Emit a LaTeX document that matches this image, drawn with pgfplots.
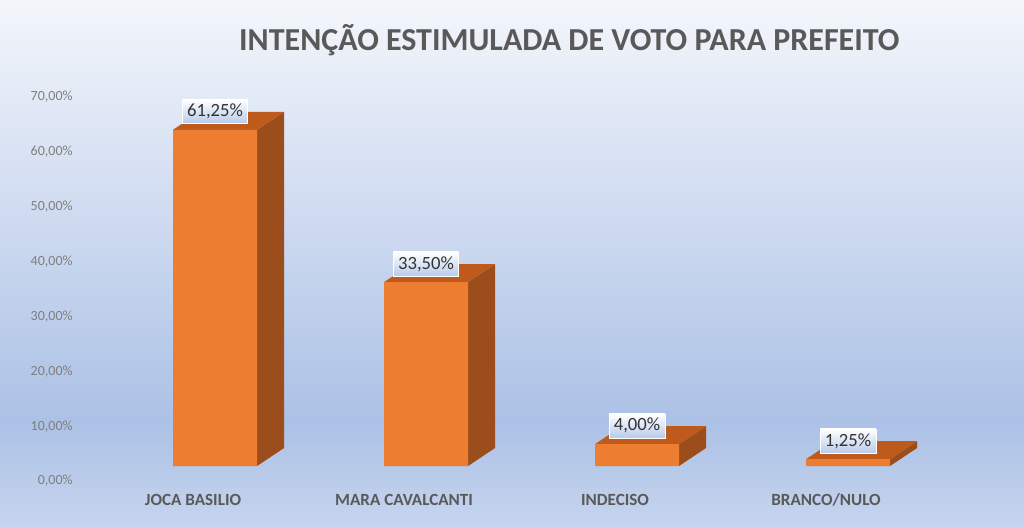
\documentclass[border=0pt]{standalone}
\usepackage{pgfplots}
\pgfplotsset{compat=1.18}
\usepackage{fontspec}
\setmainfont{Carlito}
\definecolor{barfront}{HTML}{ED7D31}
\definecolor{barside}{HTML}{9C4D1C}
\definecolor{bartop}{HTML}{BD5A1C}
\definecolor{bgtop}{HTML}{F3F6FB}
\definecolor{bgmid}{HTML}{ACC1E6}
\definecolor{bgbot}{HTML}{C6D4EE}
\definecolor{titlegray}{HTML}{595959}
\definecolor{tickgray}{HTML}{7F7F7F}
\definecolor{lblblue}{HTML}{B9CBEA}

\begin{document}
\begin{tikzpicture}
% background (1px = 0.75pt)
\shade[top color=bgtop, bottom color=bgmid] (0,78.75pt) rectangle (768pt,394.5pt);
\shade[top color=bgmid, bottom color=bgbot] (0,0) rectangle (768pt,78.75pt);
\node[font=\fontsize{24}{28}\selectfont\bfseries, text=titlegray] at (427pt,364.5pt)
  {INTENÇÃO ESTIMULADA DE VOTO PARA PREFEITO};
\begin{axis}[
  at={(60pt,32.625pt)}, anchor=south west,
  x=158.25pt, y=4.1175pt,
  xmin=-0.64, xmax=3.72,
  ymin=-3, ymax=75,
  clip=false,
  axis line style={draw=none},
  tick style={draw=none},
  ytick={0,10,20,30,40,50,60,70},
  yticklabel={\pgfmathprintnumber[fixed,fixed zerofill,precision=2,use comma,assume math mode=true]{\tick}\%},
  yticklabel style={font=\fontsize{10.5}{12}\selectfont, text=tickgray, yshift=-11.25pt, xshift=-2pt},
  xtick={0,1,2,3},
  xticklabels={JOCA BASILIO, MARA CAVALCANTI, INDECISO, BRANCO/NULO},
  xticklabel style={font=\fontsize{12.8}{15}\selectfont\bfseries, text=titlegray, xshift=-16.5pt, yshift=-5pt},
]
% side faces
\addplot[fill=barside, draw=none] coordinates {(0.199,0)(0.199,61.25)(0.327,64.53)(0.327,3.28)} -- cycle;
\addplot[fill=barside, draw=none] coordinates {(1.199,0)(1.199,33.5)(1.327,36.78)(1.327,3.28)} -- cycle;
\addplot[fill=barside, draw=none] coordinates {(2.199,0)(2.199,4)(2.327,7.28)(2.327,3.28)} -- cycle;
\addplot[fill=barside, draw=none] coordinates {(3.199,0)(3.199,1.25)(3.327,4.53)(3.327,3.28)} -- cycle;
% top faces
\addplot[fill=bartop, draw=none] coordinates {(-0.199,61.25)(0.199,61.25)(0.327,64.53)(-0.071,64.53)} -- cycle;
\addplot[fill=bartop, draw=none] coordinates {(0.801,33.5)(1.199,33.5)(1.327,36.78)(0.929,36.78)} -- cycle;
\addplot[fill=bartop, draw=none] coordinates {(1.801,4)(2.199,4)(2.327,7.28)(1.929,7.28)} -- cycle;
\addplot[fill=bartop, draw=none] coordinates {(2.801,1.25)(3.199,1.25)(3.327,4.53)(2.929,4.53)} -- cycle;
% front faces with labels
\addplot[ybar, bar width=63pt, fill=barfront, draw=none,
  nodes near coords={\pgfmathprintnumber[fixed,fixed zerofill,precision=2,use comma,assume math mode=true]{\pgfplotspointmeta}\%},
  every node near coord/.append style={anchor=south, yshift=4.5pt,
    font=\fontsize{14}{16}\selectfont, text=black!80,
    top color=white, bottom color=lblblue, draw=white, line width=0.4pt,
    inner xsep=3.5pt, minimum height=16.5pt},
] coordinates {(0,61.25)(1,33.5)(2,4)(3,1.25)};
\end{axis}
\end{tikzpicture}
\end{document}
